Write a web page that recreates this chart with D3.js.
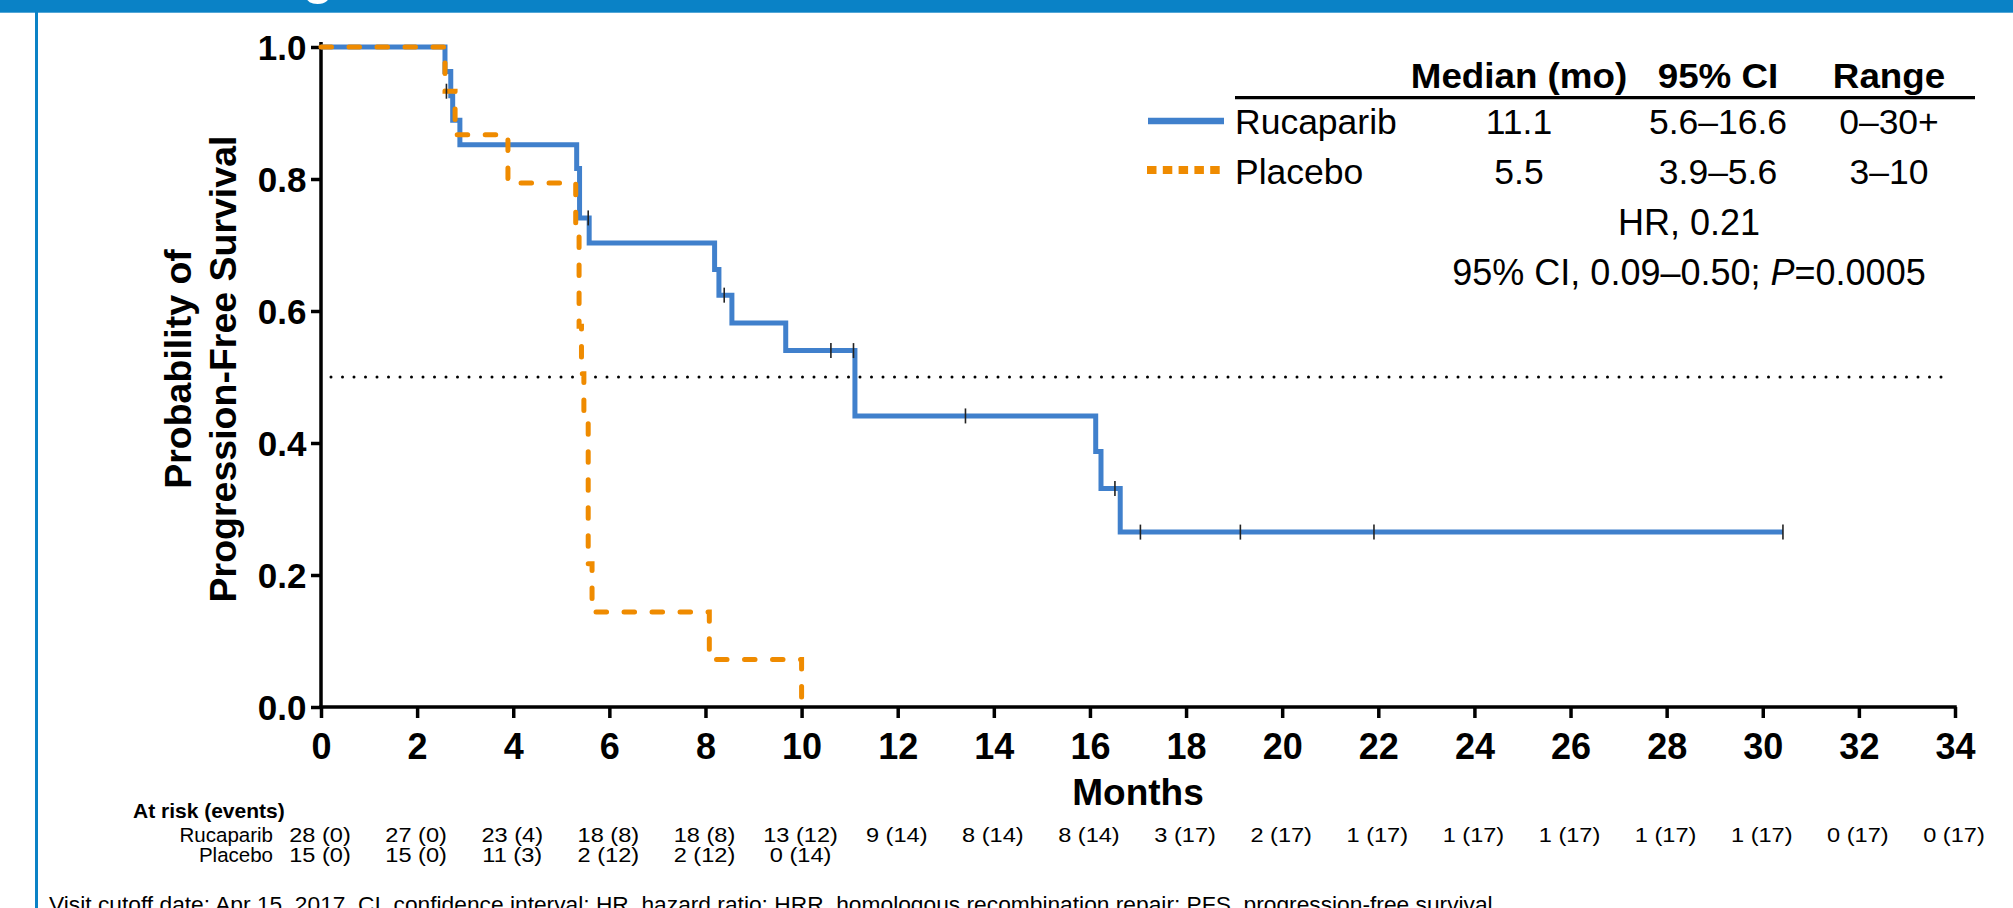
<!DOCTYPE html>
<html><head><meta charset="utf-8">
<script src="https://cdn.jsdelivr.net/npm/d3@7"></script>
<style>
html,body{margin:0;padding:0;background:#fff;overflow:hidden}
svg{display:block;font-family:"Liberation Sans",Arial,Helvetica,sans-serif}
</style>
</head><body>
<svg id="chart" width="2013" height="908"></svg>
<script>
// ---------- data ----------
const monthTicks = [0,2,4,6,8,10,12,14,16,18,20,22,24,26,28,30,32,34];
const survTicks = [0,0.2,0.4,0.6,0.8,1.0];

const rucTimes = [0, 2.58, 2.70, 2.74, 2.89, 5.32, 5.38, 5.58, 8.19, 8.28, 8.55, 9.67, 11.11, 16.12, 16.23, 16.63];
const rucSurv  = [1.0, 0.963, 0.926, 0.889, 0.852, 0.816, 0.741, 0.703, 0.663, 0.624, 0.582, 0.540, 0.441, 0.387, 0.331, 0.265];
const rucLastFollowUp = 30.42;
const rucCensored = [5.56, 8.39, 10.61, 11.08, 13.41, 16.52, 17.05, 19.13, 21.91, 30.42];

const plaTimes = [0, 2.58, 2.79, 3.89, 5.30, 5.37, 5.42, 5.47, 5.56, 5.64, 8.08, 10.0];
const plaSurv  = [1.0, 0.933, 0.867, 0.794, 0.722, 0.577, 0.505, 0.433, 0.217, 0.144, 0.072, 0.0];
const plaLastFollowUp = 10.0;
const plaCensored = [2.61];

const seriesNames = ["Rucaparib", "Placebo"];
const tableHeaders = ["Median (mo)", "95% CI", "Range"];
const medians = ["11.1", "5.5"];
const medianCIs = ["5.6–16.6", "3.9–5.6"];
const ranges = ["0–30+", "3–10"];
const hrText = "HR, 0.21";

const rucAtRisk = [28,27,23,18,18,13,9,8,8,3,2,1,1,1,1,1,0,0];
const rucEvents = [0,0,4,8,8,12,14,14,14,17,17,17,17,17,17,17,17,17];
const plaAtRisk = [15,15,11,2,2,0];
const plaEvents = [0,0,3,12,12,14];

const footnote = "Visit cutoff date: Apr 15, 2017. CI, confidence interval; HR, hazard ratio; HRR, homologous recombination repair; PFS, progression-free survival.";

// ---------- setup ----------
const BLUE = "#4080CC", ORANGE = "#EF8B00", FRAME = "#0A82C6";
const svg = d3.select("#chart");
const x = d3.scaleLinear().domain([0, 34]).range([321, 1955]);
const y = d3.scaleLinear().domain([0, 1]).range([707, 47]);

function T(parent, px, py, s, o) {
  o = o || {};
  return parent.append("text")
    .attr("transform", `translate(${px},${py}) scale(${o.sx || 1},1)`)
    .attr("font-size", o.size || 20)
    .attr("font-weight", o.weight || "normal")
    .attr("text-anchor", o.anchor || "start")
    .attr("fill", o.fill || "#000")
    .text(s);
}

// frame
svg.append("rect").attr("x", 0).attr("y", 0).attr("width", 2013).attr("height", 12.7).attr("fill", FRAME);
svg.append("rect").attr("x", 35).attr("y", 0).attr("width", 3).attr("height", 908).attr("fill", FRAME);
T(svg, 303, -6, "g", {size: 50, weight: "bold", fill: "#fff"});

// median reference line
svg.append("line")
  .attr("x1", x(0) + 10).attr("x2", x(34) - 6)
  .attr("y1", y(0.5)).attr("y2", y(0.5))
  .attr("stroke", "#000").attr("stroke-width", 3)
  .attr("stroke-linecap", "round").attr("stroke-dasharray", "0 11.5");

// axes
const yAxis = d3.axisLeft(y).tickValues(survTicks).tickFormat(d3.format(".1f")).tickSize(10).tickSizeOuter(0);
const xAxis = d3.axisBottom(x).tickValues(monthTicks).tickFormat(d3.format("d")).tickSize(11).tickSizeOuter(0);

const gy = svg.append("g").attr("transform", `translate(${x(0)},0)`).call(yAxis);
gy.select(".domain").attr("d", `M0,${y(1) - 5}V${y(0)}`);
gy.selectAll("path,line").attr("stroke", "#000").attr("stroke-width", 3.5);
gy.selectAll("text").attr("font-family", null).attr("font-size", 35).attr("font-weight", "bold")
  .attr("x", -14.5).attr("dy", "0.36em").attr("fill", "#000");

const gx = svg.append("g").attr("transform", `translate(0,${y(0)})`).call(xAxis);
gx.select(".domain").attr("d", `M${x(0) - 1.75},0H${x(34) + 1.75}`);
gx.selectAll("path,line").attr("stroke", "#000").attr("stroke-width", 3.5);
gx.selectAll("text").attr("font-family", null).attr("font-size", 36).attr("font-weight", "bold")
  .attr("y", 52).attr("dy", 0).attr("fill", "#000");

// axis titles
const yt = svg.append("g").attr("font-weight", "bold").attr("font-size", 37.5);
yt.append("text").attr("transform", "translate(191,369) rotate(-90)").attr("text-anchor", "middle").text("Probability of");
yt.append("text").attr("transform", "translate(236,369) rotate(-90)").attr("text-anchor", "middle").text("Progression-Free Survival");
T(svg, x(17), 805, "Months", {size: 37, weight: "bold", anchor: "middle"});

// KM curves
const step = d3.line().x(d => x(d[0])).y(d => y(d[1])).curve(d3.curveStepAfter);
function pts(times, surv, last) {
  const p = times.map((t, i) => [t, surv[i]]);
  p.push([last, surv[surv.length - 1]]);
  return p;
}
function survAt(times, surv, t) {
  let s = surv[0];
  for (let i = 0; i < times.length; i++) if (times[i] <= t) s = surv[i];
  return s;
}
svg.append("path").attr("d", step(pts(rucTimes, rucSurv, rucLastFollowUp)))
  .attr("fill", "none").attr("stroke", BLUE).attr("stroke-width", 5).attr("stroke-linejoin", "miter");
svg.append("path").attr("d", step(pts(plaTimes, plaSurv, plaLastFollowUp)))
  .attr("fill", "none").attr("stroke", ORANGE).attr("stroke-width", 5)
  .attr("stroke-linecap", "round").attr("stroke-dasharray", "10.5 17.5");

const cens = svg.append("g").attr("stroke", "#222").attr("stroke-width", 1.6);
rucCensored.forEach(t => {
  const yy = y(survAt(rucTimes, rucSurv, t));
  cens.append("line").attr("x1", x(t)).attr("x2", x(t)).attr("y1", yy - 7.5).attr("y2", yy + 7.5);
});
plaCensored.forEach(t => {
  const yy = y(survAt(plaTimes, plaSurv, t));
  cens.append("line").attr("x1", x(t)).attr("x2", x(t)).attr("y1", yy - 7.5).attr("y2", yy + 7.5);
});

// legend / summary table
const lg = svg.append("g");
const colX = [1519, 1718, 1889];
tableHeaders.forEach((h, i) => T(lg, colX[i], 88, h, {size: 35, weight: "bold", anchor: "middle", sx: 1.05}));
lg.append("line").attr("x1", 1235).attr("x2", 1975).attr("y1", 97.7).attr("y2", 97.7).attr("stroke", "#000").attr("stroke-width", 3.2);
const rowY = [134, 184];
lg.append("line").attr("x1", 1148).attr("x2", 1224).attr("y1", 121).attr("y2", 121).attr("stroke", BLUE).attr("stroke-width", 6.7);
lg.append("line").attr("x1", 1147).attr("x2", 1221).attr("y1", 170).attr("y2", 170).attr("stroke", ORANGE).attr("stroke-width", 8).attr("stroke-dasharray", "9.5 6.3");
seriesNames.forEach((n, i) => {
  T(lg, 1235, rowY[i], n, {size: 35.5});
  T(lg, colX[0], rowY[i], medians[i], {size: 35.5, anchor: "middle"});
  T(lg, colX[1], rowY[i], medianCIs[i], {size: 35.5, anchor: "middle"});
  T(lg, colX[2], rowY[i], ranges[i], {size: 35.5, anchor: "middle"});
});
T(lg, 1689, 235, hrText, {size: 36, anchor: "middle"});
const pt = T(lg, 1689, 285, "", {size: 36, anchor: "middle"});
pt.append("tspan").text("95% CI, 0.09–0.50; ");
pt.append("tspan").attr("font-style", "italic").text("P");
pt.append("tspan").text("=0.0005");

// at-risk table
const ar = svg.append("g");
T(ar, 133, 818, "At risk (events)", {size: 21, weight: "bold"});
T(ar, 273, 842, seriesNames[0], {size: 20.5, anchor: "end"});
T(ar, 273, 862, seriesNames[1], {size: 20.5, anchor: "end"});
rucAtRisk.forEach((n, i) => T(ar, x(monthTicks[i]) - 1, 842, `${n} (${rucEvents[i]})`, {size: 20.5, anchor: "middle", sx: 1.15}));
plaAtRisk.forEach((n, i) => T(ar, x(monthTicks[i]) - 1, 862, `${n} (${plaEvents[i]})`, {size: 20.5, anchor: "middle", sx: 1.15}));

// footnote (cropped at bottom edge)
svg.append("text").attr("x", 49).attr("y", 912).attr("font-size", 22)
  .attr("textLength", 1450).attr("lengthAdjust", "spacingAndGlyphs").text(footnote);
</script>
</body></html>
